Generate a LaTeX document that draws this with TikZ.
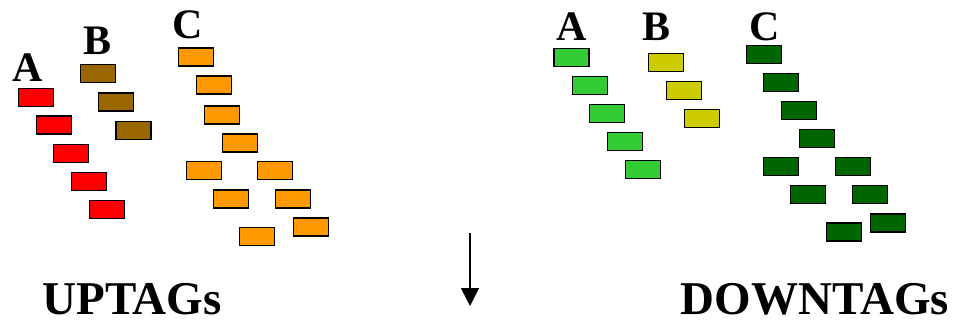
\documentclass[tikz,border=0pt]{standalone}
\usepackage{fontspec}
\setmainfont{Liberation Serif}
\usetikzlibrary{arrows.meta}

\definecolor{tagred}{HTML}{FF0000}
\definecolor{tagbrown}{HTML}{996600}
\definecolor{tagorange}{HTML}{FF9900}
\definecolor{taglime}{HTML}{33CC33}
\definecolor{tagyellow}{HTML}{CCCC00}
\definecolor{tagdark}{HTML}{006600}

\begin{document}
\begin{tikzpicture}[x=1pt,y=-1pt]
    \tikzset{TagStyle/.style = {%
        shape= rectangle,
        draw= black,
        line width= 1.3pt,
        inner sep= 0pt,
        minimum width= 35pt,
        minimum height= 18pt},
      LetterStyle/.style = {inner sep=0pt,
        font=\fontsize{42}{46}\selectfont\bfseries},
      TitleStyle/.style = {inner sep=0pt,
        font=\fontsize{47}{52}\selectfont\bfseries}}
    \useasboundingbox (0,0) rectangle (956,323);
    % UPTAGs
    \node[LetterStyle] (uA) at (28,68) {A};
    \node[LetterStyle] (uB) at (98,41) {B};
    \node[LetterStyle] (uC) at (188,25) {C};
    \node[TagStyle,fill=tagred] (uA1) at (36,97.5) {};
    \node[TagStyle,fill=tagred] (uA2) at (54,125) {};
    \node[TagStyle,fill=tagred] (uA3) at (71,153.5) {};
    \node[TagStyle,fill=tagred] (uA4) at (89,181.5) {};
    \node[TagStyle,fill=tagred] (uA5) at (107,209.5) {};
    \node[TagStyle,fill=tagbrown] (uB1) at (98,73.5) {};
    \node[TagStyle,fill=tagbrown] (uB2) at (116,102) {};
    \node[TagStyle,fill=tagbrown] (uB3) at (133.5,130.5) {};
    \node[TagStyle,fill=tagorange] (uC1) at (196,57) {};
    \node[TagStyle,fill=tagorange] (uC2) at (214,85) {};
    \node[TagStyle,fill=tagorange] (uC3) at (222,115) {};
    \node[TagStyle,fill=tagorange] (uC4) at (240,143) {};
    \node[TagStyle,fill=tagorange] (uC5) at (204,170.5) {};
    \node[TagStyle,fill=tagorange] (uC6) at (275,170.5) {};
    \node[TagStyle,fill=tagorange] (uC7) at (231,199) {};
    \node[TagStyle,fill=tagorange] (uC8) at (293,199) {};
    \node[TagStyle,fill=tagorange] (uC9) at (257,236.5) {};
    \node[TagStyle,fill=tagorange] (uC10) at (311,227) {};
    \node[TitleStyle] (up) at (132,299) {UPTAGs};
    % DOWNTAGs
    \node[LetterStyle] (dA) at (572,27) {A};
    \node[LetterStyle] (dB) at (656,27) {B};
    \node[LetterStyle] (dC) at (765,27) {C};
    \node[TagStyle,fill=taglime] (dA1) at (571.5,57.5) {};
    \node[TagStyle,fill=taglime] (dA2) at (590,85.5) {};
    \node[TagStyle,fill=taglime] (dA3) at (607,113.5) {};
    \node[TagStyle,fill=taglime] (dA4) at (625,141.5) {};
    \node[TagStyle,fill=taglime] (dA5) at (643,169.5) {};
    \node[TagStyle,fill=tagyellow] (dB1) at (666,62.5) {};
    \node[TagStyle,fill=tagyellow] (dB2) at (684,90.5) {};
    \node[TagStyle,fill=tagyellow] (dB3) at (702,118.5) {};
    \node[TagStyle,fill=tagdark] (dC1) at (764,54.5) {};
    \node[TagStyle,fill=tagdark] (dC2) at (781,82.5) {};
    \node[TagStyle,fill=tagdark] (dC3) at (799,110.5) {};
    \node[TagStyle,fill=tagdark] (dC4) at (817,138.5) {};
    \node[TagStyle,fill=tagdark] (dC5) at (781,166.5) {};
    \node[TagStyle,fill=tagdark] (dC6) at (853,166.5) {};
    \node[TagStyle,fill=tagdark] (dC7) at (808,194.5) {};
    \node[TagStyle,fill=tagdark] (dC8) at (870,194.5) {};
    \node[TagStyle,fill=tagdark] (dC9) at (844,232) {};
    \node[TagStyle,fill=tagdark] (dC10) at (888,223) {};
    \node[TitleStyle] (down) at (815,299) {DOWNTAGs};
    % arrow
    \coordinate (top) at (470,233);
    \coordinate (bot) at (470,306);
    \draw[line width=1.6pt,-{Triangle[width=18pt,length=18pt]}] (top) -- (bot);
  \end{tikzpicture}
\end{document}
